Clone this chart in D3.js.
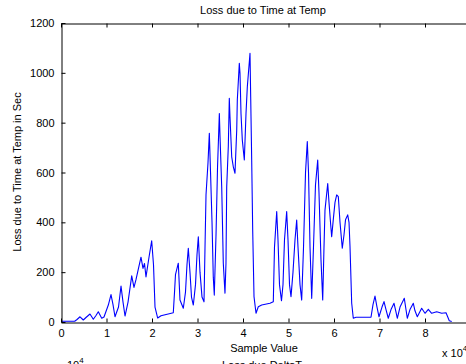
<!DOCTYPE html>
<html>
<head>
<meta charset="utf-8">
<script src="https://cdn.jsdelivr.net/npm/d3@7"></script>
<style>
  html, body { margin: 0; padding: 0; background: #fff; overflow: hidden; }
  svg { display: block; font-family: "Liberation Sans", Arial, sans-serif; }
</style>
</head>
<body>
<svg id="chart" width="466" height="364"></svg>
<script>
// sample value, in units of 10^4 (as the axis shows)
var sampleE4 = [
  0.000, 0.301, 0.352, 0.418, 0.490, 0.549, 0.637, 0.710, 0.769, 0.820,
  0.895, 0.945, 1.040, 1.099, 1.143, 1.187, 1.264, 1.319, 1.363, 1.407,
  1.473, 1.554, 1.604, 1.648, 1.758, 1.802, 1.835, 1.868, 1.934, 1.993,
  2.033, 2.066, 2.125, 2.198, 2.468, 2.495, 2.516, 2.578, 2.615, 2.688,
  2.736, 2.769, 2.798, 2.835, 2.868, 2.908, 2.956, 2.989, 3.018, 3.055,
  3.099, 3.143, 3.165, 3.187, 3.231, 3.260, 3.286, 3.319, 3.347, 3.369,
  3.407, 3.440, 3.480, 3.495, 3.532, 3.567, 3.604, 3.626, 3.642, 3.677,
  3.699, 3.714, 3.752, 3.787, 3.824, 3.862, 3.875, 3.919, 3.934, 3.956,
  3.985, 4.029, 4.066, 4.095, 4.154, 4.169, 4.191, 4.213, 4.242, 4.286,
  4.336, 4.411, 4.593, 4.666, 4.692, 4.741, 4.769, 4.802, 4.846, 4.879,
  4.912, 4.960, 4.989, 5.022, 5.055, 5.099, 5.143, 5.180, 5.209, 5.253,
  5.290, 5.330, 5.374, 5.413, 5.440, 5.473, 5.510, 5.549, 5.593, 5.642,
  5.670, 5.714, 5.752, 5.780, 5.802, 5.862, 5.890, 5.923, 5.949, 5.989,
  6.022, 6.059, 6.095, 6.132, 6.182, 6.220, 6.253, 6.301, 6.330, 6.352,
  6.389, 6.424, 6.484, 6.813, 6.857, 6.901, 6.945, 6.989, 7.055, 7.099,
  7.143, 7.193, 7.253, 7.319, 7.363, 7.391, 7.451, 7.545, 7.582, 7.611,
  7.670, 7.743, 7.780, 7.831, 7.927, 8.000, 8.073, 8.147, 8.257, 8.367,
  8.462, 8.534, 8.587
];

// loss due to time at temp, seconds
var lossSec = [
  3, 3, 10, 21, 8, 18, 32, 11, 26, 41,
  15, 20, 68, 110, 70, 21, 60, 144, 80, 24,
  80, 185, 139, 170, 260, 215, 235, 181, 260, 326,
  230, 60, 16, 25, 37, 120, 190, 236, 88, 55,
  120, 230, 296, 200, 100, 68, 150, 270, 342, 200,
  100, 81, 300, 510, 640, 757, 603, 400, 180, 108,
  350, 620, 837, 744, 543, 236, 116, 236, 543, 704,
  898, 824, 663, 623, 597, 770, 891, 1038, 998, 837,
  730, 650, 837, 944, 1078, 904, 650, 369, 102, 35,
  61, 68, 75, 81, 300, 443, 330, 150, 85, 150,
  330, 443, 330, 150, 102, 200, 330, 409, 300, 150,
  88, 300, 600, 724, 600, 300, 95, 300, 550, 650,
  520, 250, 88, 300, 449, 556, 480, 400, 342, 420,
  480, 510, 503, 400, 296, 350, 410, 430, 400, 302,
  75, 15, 19, 19, 70, 104, 60, 21, 60, 82,
  50, 15, 50, 75, 40, 15, 60, 95, 50, 15,
  50, 75, 45, 21, 55, 35, 51, 35, 41, 35,
  37, 5, 2
];

var xTicks = [0, 1, 2, 3, 4, 5, 6, 7, 8];
var yTicks = [0, 200, 400, 600, 800, 1000, 1200];

var svg = d3.select('#chart');

var x = d3.scaleLinear().domain([0, 9]).range([61, 470.5]);
var y = d3.scaleLinear().domain([0, 1200]).range([322, 23]);

var points = sampleE4.map(function(d, i) { return [d, lossSec[i]]; });

var line = d3.line()
    .x(function(d) { return x(d[0]); })
    .y(function(d) { return y(d[1]); });

svg.append('path')
    .datum(points)
    .attr('d', line)
    .attr('fill', 'none')
    .attr('stroke', '#0000ff')
    .attr('stroke-width', 1.1)
    .attr('stroke-linejoin', 'round');

// axes: MATLAB-style box with inward ticks
var xAxisBottom = d3.axisBottom(x).tickValues(xTicks).tickFormat(d3.format('d'))
    .tickSizeInner(-4).tickSizeOuter(0).tickPadding(7);
var xAxisTop = d3.axisTop(x).tickValues(xTicks).tickFormat('')
    .tickSizeInner(-4).tickSizeOuter(0);
var yAxisLeft = d3.axisLeft(y).tickValues(yTicks).tickFormat(d3.format('d'))
    .tickSizeInner(-4).tickSizeOuter(0).tickPadding(7);

function styleAxis(g) {
    g.selectAll('path.domain').attr('stroke', '#000').attr('stroke-width', 1);
    g.selectAll('.tick line').attr('stroke', '#000').attr('stroke-width', 1);
    g.selectAll('.tick text').attr('fill', '#000').style('font-size', '11px')
        .style('font-family', '"Liberation Sans", Arial, sans-serif');
}

svg.append('g').attr('transform', 'translate(0,322.5)').call(xAxisBottom).call(styleAxis);
svg.append('g').attr('transform', 'translate(0,23.5)').call(xAxisTop).call(styleAxis);
svg.append('g').attr('transform', 'translate(61.5,0)').call(yAxisLeft).call(styleAxis);
svg.append('line')
    .attr('x1', 470.5).attr('x2', 470.5).attr('y1', 23).attr('y2', 323)
    .attr('stroke', '#000');

// texts
svg.append('text')
    .attr('x', 263).attr('y', 14)
    .attr('text-anchor', 'middle')
    .style('font-size', '11px')
    .text('Loss due to Time at Temp');

svg.append('text')
    .attr('x', 264).attr('y', 352)
    .attr('text-anchor', 'middle')
    .style('font-size', '11px')
    .text('Sample Value');

svg.append('text')
    .attr('transform', 'translate(21,172) rotate(-90)')
    .attr('text-anchor', 'middle')
    .style('font-size', '11px')
    .text('Loss due to Time at Temp in Sec');

var mult = svg.append('text')
    .attr('x', 442).attr('y', 357)
    .style('font-size', '11px');
mult.append('tspan').text('x 10');
mult.append('tspan').attr('dy', -6).style('font-size', '8px').text('4');

// pieces of the next subplot peeking in at the bottom
var mult2 = svg.append('text')
    .attr('x', 67).attr('y', 369)
    .style('font-size', '11px');
mult2.append('tspan').text('10');
mult2.append('tspan').attr('dy', -6).style('font-size', '8px').text('4');

svg.append('text')
    .attr('x', 262).attr('y', 369)
    .attr('text-anchor', 'middle')
    .style('font-size', '11px')
    .text('Loss due DeltaT');
</script>
</body>
</html>
